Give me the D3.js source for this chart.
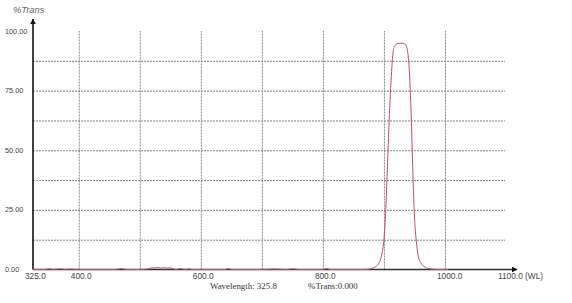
<!DOCTYPE html>
<html>
<head>
<meta charset="utf-8">
<script src="https://cdn.jsdelivr.net/npm/d3@7"></script>
<style>
  html, body { margin: 0; padding: 0; background: #fff; }
  svg { display: block; }
  .tick-lbl { font-family: "Liberation Sans", Arial, sans-serif; fill: #444; }
  .grid line { stroke: #858585; stroke-dasharray: 2,1; stroke-width: 1; }
  .grid path { display: none; }
</style>
</head>
<body>
<svg id="chart" width="572" height="303"></svg>
<script>
// spectrum: wavelength (nm) and %Trans
const wavelength = [325, 345, 352, 358, 370, 378, 385, 400, 460, 470, 478, 500, 515, 520, 525, 530, 535, 540, 545, 550, 555, 560, 565, 575, 580, 585, 600, 640, 645, 650, 700, 720, 740, 750, 760, 800, 806, 812, 840, 870, 880, 885, 890, 894, 897, 900, 903, 905, 907, 909, 911, 913, 915, 918, 922, 928, 934, 937, 939, 941, 943, 945, 947, 949, 951, 953, 956, 960, 965, 970, 978, 990, 1005]
const trans      = [0, 0, 0.3, 0, 0.3, 0, 0.2, 0, 0, 0.4, 0, 0, 0.3, 0.7, 0.6, 0.8, 0.6, 0.8, 0.6, 0.7, 0.3, 0, 0.4, 0, 0.3, 0, 0, 0, 0.4, 0, 0, 0.2, 0, 0.3, 0, 0, 0.4, 0, 0, 0, 0.4, 1, 2, 4, 7, 12.5, 25, 38, 52, 65, 76, 85, 91, 94, 94.7, 94.9, 94.6, 93.5, 91, 86, 76, 62, 44, 28, 18, 12, 6, 3, 1.5, 0.6, 0.2, 0, 0]

const xTicks = [325, 400, 600, 800, 1000, 1100]
const xTickLabels = ['325.0', '400.0', '600.0', '800.0', '1000.0', '1100.0 (WL)']
const xGrid = [400, 500, 600, 700, 800, 900, 1000]
const yTicks = [0, 25, 50, 75, 100]
const yTickLabels = ['0.00', '25.00', '50.00', '75.00', '100.00']
const yGrid = [12.5, 25, 37.5, 50, 62.5, 75, 87.5]

const svg = d3.select('#chart')

const x = d3.scaleLinear().domain([325, 1100]).range([33, 506])
const y = d3.scaleLinear().domain([0, 100]).range([269.5, 31])

// grid
svg.append('g').attr('class', 'grid')
  .attr('transform', 'translate(0,' + y(0) + ')')
  .call(d3.axisBottom(x).tickValues(xGrid).tickSize(-(y(0) - y(100))).tickFormat(''))

svg.append('g').attr('class', 'grid')
  .attr('transform', 'translate(' + x(325) + ',0)')
  .call(d3.axisRight(y).tickValues(yGrid).tickSize(505 - x(325)).tickFormat(''))

// axis labels
xTicks.forEach((v, i) => {
  svg.append('text').attr('class', 'tick-lbl')
    .attr('x', x(v) - 8)
    .attr('y', 279)
    .style('font-size', '8.3px')
    .text(xTickLabels[i])
})

yTicks.forEach((v, i) => {
  svg.append('text').attr('class', 'tick-lbl')
    .attr('x', 5)
    .attr('y', y(v) + 2.5)
    .style('font-size', '7.3px')
    .text(yTickLabels[i])
})

// axes with arrows
svg.append('defs').append('marker')
  .attr('id', 'arr').attr('viewBox', '0 0 10 10')
  .attr('refX', 9).attr('refY', 5)
  .attr('markerWidth', 6).attr('markerHeight', 6)
  .attr('markerUnits', 'userSpaceOnUse')
  .attr('orient', 'auto')
  .append('path').attr('d', 'M0,0L10,5L0,10z').attr('fill', '#111')

svg.append('line')
  .attr('x1', x(325)).attr('y1', y(0)).attr('x2', x(325)).attr('y2', 19)
  .attr('stroke', '#111').attr('stroke-width', 1.6).attr('marker-end', 'url(#arr)')
svg.append('line')
  .attr('x1', x(325)).attr('y1', y(0)).attr('x2', 517).attr('y2', y(0))
  .attr('stroke', '#333').attr('stroke-width', 1.6).attr('marker-end', 'url(#arr)')

// spectrum curve
const pts = wavelength.map((w, i) => [w, trans[i]])
const line = d3.line().x(d => x(d[0])).y(d => y(d[1])).curve(d3.curveMonotoneX)
svg.append('path').datum(pts)
  .attr('d', line)
  .attr('fill', 'none')
  .attr('stroke', '#b9525e')
  .attr('stroke-width', 1)

// titles
svg.append('text')
  .attr('x', 13).attr('y', 13)
  .style('font-family', '"Liberation Sans", Arial, sans-serif')
  .style('font-style', 'italic')
  .style('font-size', '9.3px')
  .attr('fill', '#666')
  .text('%Trans')

svg.append('text')
  .attr('x', 210).attr('y', 289)
  .style('font-family', '"Liberation Serif", "Times New Roman", serif')
  .style('font-size', '8.9px')
  .attr('fill', '#333')
  .text('Wavelength: 325.8')

svg.append('text')
  .attr('x', 308).attr('y', 289)
  .style('font-family', '"Liberation Serif", "Times New Roman", serif')
  .style('font-size', '8.9px')
  .attr('fill', '#333')
  .text('%Trans:0.000')
</script>
</body>
</html>
